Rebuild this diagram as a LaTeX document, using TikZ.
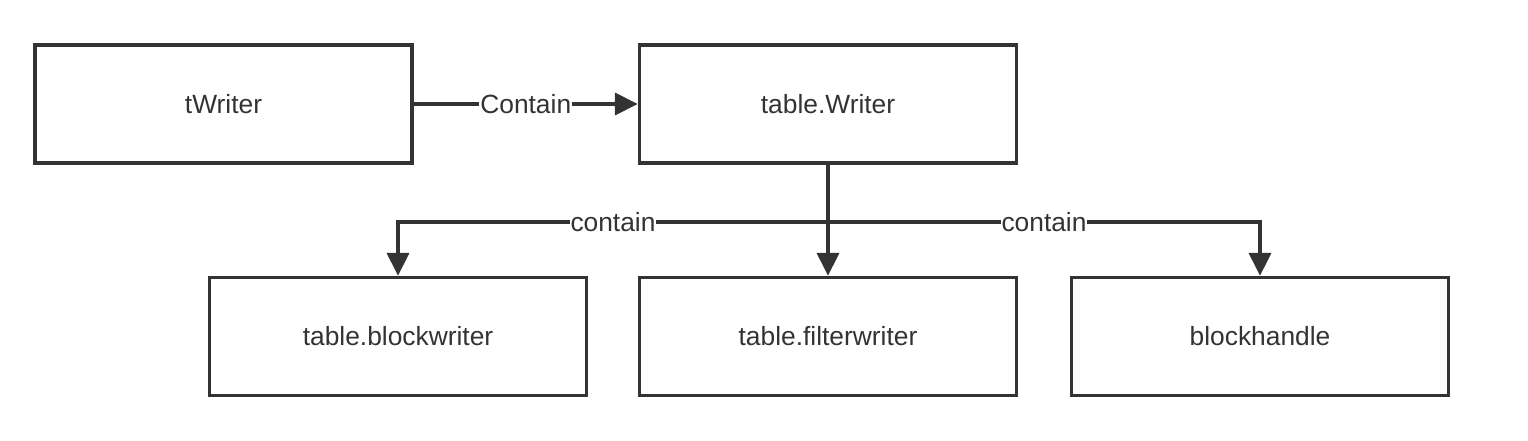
\documentclass[tikz,border=0pt]{standalone}
\usepackage{fontspec}
\setmainfont{Liberation Sans}
\usetikzlibrary{arrows.meta}
\definecolor{ink}{HTML}{333333}
\begin{document}
\begin{tikzpicture}[
        box/.style={draw=ink,line width=1.9pt,minimum width=7.54cm,minimum height=2.36cm,
            text=ink,font=\fontsize{15}{18}\selectfont},
        link/.style={draw=ink,line width=2pt,-{Triangle[length=0.46cm,width=0.44cm]}},
        tag/.style={fill=white,text=ink,inner sep=0.5pt,font=\fontsize{15}{18}\selectfont}
    ]
            \useasboundingbox (0,0) rectangle (30.56,-8.8);
            \node[box] (tw) at (4.47,-2.08) {tWriter};
            \node[box] (w) at (16.56,-2.08) {table.Writer};
            \node[box] (bw) at (7.96,-6.73) {table.blockwriter};
            \node[box] (fw) at (16.56,-6.73) {table.filterwriter};
            \node[box] (bh) at (25.2,-6.73) {blockhandle};
            \coordinate (split) at (16.56,-4.44);
            \draw[link] (tw) -- node[tag] {Contain} (w);
            \draw[link] (w) -- (fw);
            \draw[link] (split) -| node[tag,pos=.25] {contain} (bw);
            \draw[link] (split) -| node[tag,pos=.25] {contain} (bh);
        \end{tikzpicture}
\end{document}
